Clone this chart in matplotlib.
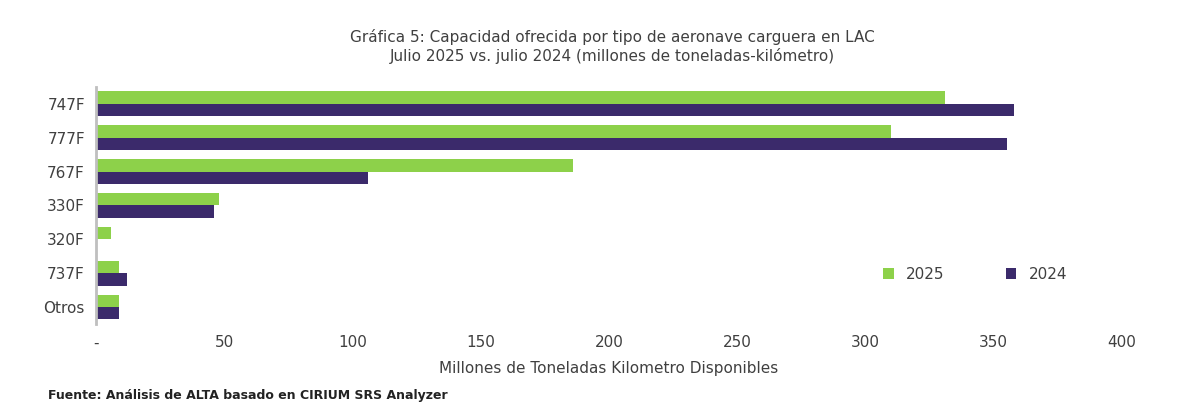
import matplotlib.pyplot as plt
import numpy as np

categories = ["747F", "777F", "767F", "330F", "320F", "737F", "Otros"]
v2025 = [331, 310, 186, 48, 6, 9, 9]
v2024 = [358, 355, 106, 46, 0, 12, 9]
xticks = [0, 50, 100, 150, 200, 250, 300, 350, 400]
xticklabels = ["-", "50", "100", "150", "200", "250", "300", "350", "400"]

fig = plt.figure(figsize=(12, 4.13), dpi=100)
ax = fig.add_axes([0.08, 0.215, 0.855, 0.575])
y = np.arange(len(categories))
h = 0.36
ax.barh(y - h / 2, v2025, height=h, color="#8DD14A", label="2025")
ax.barh(y + h / 2, v2024, height=h, color="#3B2A6B", label="2024")
ax.set_ylim(len(categories) - 0.5, -0.5)
ax.set_xlim(0, 400)
ax.set_yticks(y)
ax.set_yticklabels(categories, fontsize=11, color="#404040")
ax.set_xticks(xticks)
ax.set_xticklabels(xticklabels, fontsize=11, color="#404040")
ax.tick_params(length=0, pad=8)
for s in ["top", "right", "bottom"]:
    ax.spines[s].set_visible(False)
ax.spines["left"].set_color("#bfbfbf")
ax.spines["left"].set_linewidth(2)
ax.set_xlabel("Millones de Toneladas Kilometro Disponibles", fontsize=11, color="#404040", labelpad=8)
fig.suptitle("Gráfica 5: Capacidad ofrecida por tipo de aeronave carguera en LAC\n"
             "Julio 2025 vs. julio 2024 (millones de toneladas-kilómetro)",
             fontsize=11, color="#404040", y=0.93, x=0.51)
ax.legend(loc="lower right", bbox_to_anchor=(0.96, 0.12), ncol=2, frameon=False,
          fontsize=11, handlelength=0.7, handleheight=0.7, columnspacing=4,
          labelcolor="#404040")
fig.text(0.04, 0.035, "Fuente: Análisis de ALTA basado en CIRIUM SRS Analyzer",
         fontsize=9, fontweight="bold", color="#222222")
fig.savefig("out.png")
